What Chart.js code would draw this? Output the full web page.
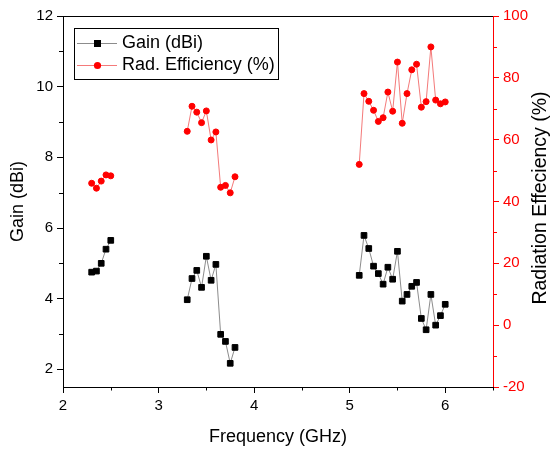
<!DOCTYPE html>
<html>
<head>
<meta charset="utf-8">
<script src="https://cdn.jsdelivr.net/npm/chart.js@4/dist/chart.umd.min.js"></script>
<style>
html,body{margin:0;padding:0;background:#fff;}
#wrap{width:550px;height:450px;position:relative;}
</style>
</head>
<body>
<div id="wrap"><canvas id="c" width="550" height="450"></canvas></div>
<script>
// ---- data ----
const freqA = [2.3, 2.35, 2.4, 2.45, 2.5];
const gainA = [4.75, 4.78, 5.0, 5.4, 5.65];
const effA  = [45.9, 44.3, 46.6, 48.6, 48.3];

const freqB = [3.3, 3.35, 3.4, 3.45, 3.5, 3.55, 3.6, 3.65, 3.7, 3.75, 3.8];
const gainB = [3.97, 4.57, 4.80, 4.32, 5.20, 4.52, 4.97, 2.99, 2.79, 2.17, 2.62];
const effB  = [62.7, 70.8, 68.9, 65.5, 69.3, 59.9, 62.5, 44.6, 45.2, 42.8, 48.0];

const freqC = [5.1, 5.15, 5.2, 5.25, 5.3, 5.35, 5.4, 5.45, 5.5, 5.55, 5.6, 5.65, 5.7, 5.75, 5.8, 5.85, 5.9, 5.95, 6.0];
const gainC = [4.66, 5.79, 5.42, 4.92, 4.71, 4.41, 4.89, 4.55, 5.34, 3.93, 4.12, 4.35, 4.46, 3.44, 3.12, 4.12, 3.25, 3.52, 3.84];
const effC  = [52.0, 74.9, 72.4, 69.5, 65.9, 67.1, 75.4, 69.2, 85.1, 65.3, 74.9, 82.6, 84.4, 70.5, 72.3, 90.0, 72.8, 71.6, 72.2];

const xTicks = [2, 3, 4, 5, 6];
const xMinor = [2.5, 3.5, 4.5, 5.5, 6.5];
const gainTicks = [2, 4, 6, 8, 10, 12];
const gainMinor = [3, 5, 7, 9, 11];
const effTicks = [-20, 0, 20, 40, 60, 80, 100];
const effMinor = [-10, 10, 30, 50, 70, 90];

const gainLabel = 'Gain (dBi)';
const effLabel = 'Rad. Efficiency (%)';
const xTitle = 'Frequency (GHz)';
const yTitle = 'Gain (dBi)';
const y2Title = 'Radiation Effeciency (%)';

// build point lists with gaps between the bands
function build(groups) {
  const out = [];
  groups.forEach((g, gi) => {
    g[0].forEach((f, i) => out.push({x: f, y: g[1][i]}));
    if (gi < groups.length - 1) out.push({x: (g[0][g[0].length - 1] + groups[gi + 1][0][0]) / 2, y: null});
  });
  return out;
}
const gainData = build([[freqA, gainA], [freqB, gainB], [freqC, gainC]]);
const effData = build([[freqA, effA], [freqB, effB], [freqC, effC]]);

const FONT = "'Liberation Sans', Arial, sans-serif";
const GAIN_LINE = '#8c8c8c';
const EFF_LINE = '#f47a7a';

function setTicks(list) { return function (scale) { scale.ticks = list.map(v => ({value: v})); }; }

const extras = {
  id: 'extras',
  beforeDraw(chart) {
    const ctx = chart.ctx;
    ctx.save();
    ctx.fillStyle = '#fff';
    ctx.fillRect(0, 0, chart.width, chart.height);
    ctx.restore();
  },
  afterDraw(chart) {
    const ctx = chart.ctx;
    const a = chart.chartArea;
    const sx = chart.scales.x, sy = chart.scales.y, sy2 = chart.scales.y2;
    ctx.save();
    // top frame line
    ctx.strokeStyle = '#000';
    ctx.lineWidth = 1;
    ctx.beginPath();
    ctx.moveTo(a.left, Math.round(a.top) + 0.5);
    ctx.lineTo(a.right, Math.round(a.top) + 0.5);
    ctx.stroke();
    // minor ticks
    ctx.beginPath();
    xMinor.forEach(v => {
      const px = Math.round(sx.getPixelForValue(v)) + 0.5;
      ctx.moveTo(px, a.bottom); ctx.lineTo(px, a.bottom + 3.5);
    });
    gainMinor.forEach(v => {
      const py = Math.round(sy.getPixelForValue(v)) + 0.5;
      ctx.moveTo(a.left, py); ctx.lineTo(a.left - 4, py);
    });
    ctx.stroke();
    ctx.strokeStyle = '#ff0000';
    ctx.beginPath();
    effMinor.forEach(v => {
      const py = Math.round(sy2.getPixelForValue(v)) + 0.5;
      ctx.moveTo(a.right, py); ctx.lineTo(a.right + 4, py);
    });
    ctx.stroke();

    // right axis title (reads bottom to top)
    ctx.fillStyle = '#000';
    ctx.font = '19.5px ' + FONT;
    ctx.textAlign = 'center';
    ctx.textBaseline = 'middle';
    ctx.save();
    ctx.translate(541, 198);
    ctx.rotate(-Math.PI / 2);
    ctx.fillText(y2Title, 0, 0);
    ctx.restore();

    // legend box
    const bx = 74.5, by = 28.5, bw = 204, bh = 51;
    ctx.strokeStyle = '#000';
    ctx.lineWidth = 1;
    ctx.strokeRect(bx, by, bw, bh);
    const rows = [
      {y: 43.5, line: GAIN_LINE, label: gainLabel, marker: 'rect'},
      {y: 65.5, line: EFF_LINE, label: effLabel, marker: 'circle'}
    ];
    rows.forEach(r => {
      ctx.strokeStyle = r.line;
      ctx.beginPath();
      ctx.moveTo(77, r.y); ctx.lineTo(117, r.y);
      ctx.stroke();
      if (r.marker === 'rect') {
        ctx.fillStyle = '#000';
        ctx.fillRect(94, r.y - 3.5, 7, 7);
      } else {
        ctx.fillStyle = '#ff0000';
        ctx.beginPath();
        ctx.arc(97.5, r.y, 3.6, 0, Math.PI * 2);
        ctx.fill();
      }
      ctx.fillStyle = '#000';
      ctx.font = '18px ' + FONT;
      ctx.textAlign = 'left';
      ctx.textBaseline = 'middle';
      ctx.fillText(r.label, 122, r.y);
    });
    ctx.restore();
  }
};

new Chart(document.getElementById('c'), {
  type: 'line',
  data: {
    datasets: [
      {
        label: gainLabel,
        data: gainData,
        yAxisID: 'y',
        borderColor: GAIN_LINE,
        borderWidth: 1,
        pointStyle: 'rect',
        pointRadius: 4,
        pointBorderWidth: 1,
        pointBackgroundColor: '#000',
        pointBorderColor: '#000',
        spanGaps: false,
        tension: 0,
        order: 2
      },
      {
        label: effLabel,
        data: effData,
        yAxisID: 'y2',
        borderColor: EFF_LINE,
        borderWidth: 1,
        pointStyle: 'circle',
        pointRadius: 3,
        pointBorderWidth: 1,
        pointBackgroundColor: '#ff0000',
        pointBorderColor: '#ff0000',
        spanGaps: false,
        tension: 0,
        order: 1
      }
    ]
  },
  options: {
    responsive: false,
    animation: false,
    layout: {padding: {top: 16, left: 0, right: 0, bottom: 0}},
    plugins: {legend: {display: false}, tooltip: {enabled: false}},
    scales: {
      x: {
        type: 'linear',
        min: 2, max: 6.5,
        afterBuildTicks: setTicks(xTicks),
        afterFit(s) { s.height = 63; },
        grid: {drawOnChartArea: false, drawTicks: true, tickLength: 6, tickColor: '#000', color: '#000'},
        border: {color: '#000', width: 1},
        ticks: {color: '#000', font: {family: FONT, size: 15}, padding: 4, maxRotation: 0, callback: v => String(v)},
        title: {display: true, text: xTitle, color: '#000', font: {family: FONT, size: 18}, padding: {top: 0, bottom: 2}}
      },
      y: {
        type: 'linear', position: 'left',
        min: 1.5, max: 12,
        afterBuildTicks: setTicks(gainTicks),
        afterFit(s) { s.width = 63; },
        grid: {drawOnChartArea: false, drawTicks: true, tickLength: 6, tickColor: '#000', color: '#000'},
        border: {color: '#000', width: 1},
        ticks: {color: '#000', font: {family: FONT, size: 15}, padding: 4, callback: v => String(v)},
        title: {display: true, text: yTitle, color: '#000', font: {family: FONT, size: 18}, padding: {top: 7, bottom: 0}}
      },
      y2: {
        type: 'linear', position: 'right',
        min: -20, max: 100,
        afterBuildTicks: setTicks(effTicks),
        afterFit(s) { s.width = 57; },
        grid: {drawOnChartArea: false, drawTicks: true, tickLength: 6, tickColor: '#ff0000', color: '#ff0000'},
        border: {color: '#ff0000', width: 1},
        ticks: {color: '#ff0000', font: {family: FONT, size: 15}, padding: 4, callback: v => String(v)}
      }
    }
  },
  plugins: [extras]
});
</script>
</body>
</html>
